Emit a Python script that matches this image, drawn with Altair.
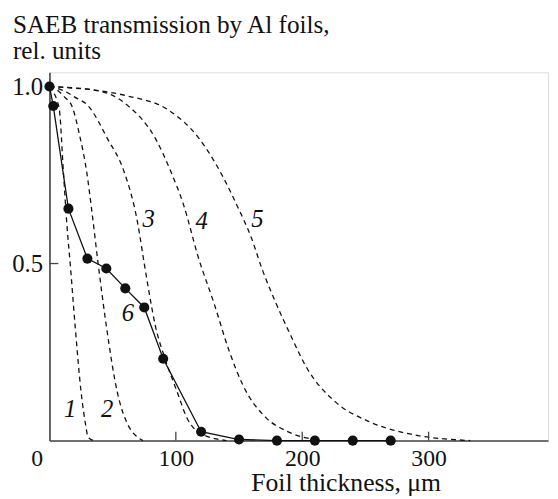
import altair as alt
import pandas as pd

# measured curve 6 (dots)
meas_x = [0, 3, 15, 30, 45, 60, 75, 90, 120, 150, 180, 210, 240, 270]
meas_y = [1.0, 0.945, 0.655, 0.514, 0.486, 0.43, 0.376, 0.231, 0.025, 0.003, 0.0, 0.0, 0.0, 0.0]

# calculated curves 1-5 (dashed)
c1_x = [0, 3, 6, 8, 11, 14, 16.4, 20.3, 25, 28.6, 30.5, 35]
c1_y = [1.0, 0.985, 0.96, 0.93, 0.76, 0.6, 0.5, 0.324, 0.138, 0.045, 0.01, 0.0]
c2_x = [0, 6, 12, 17.7, 24, 29.4, 33.3, 38.5, 45, 53.6, 62, 68, 74]
c2_y = [1.0, 0.99, 0.97, 0.945, 0.86, 0.76, 0.655, 0.5, 0.324, 0.138, 0.045, 0.015, 0.0]
c3_x = [0, 10, 20, 30.7, 46, 59, 69.5, 75, 78.9, 83.8, 91.6, 101, 108.8, 120, 140]
c3_y = [1.0, 0.99, 0.97, 0.945, 0.852, 0.76, 0.62, 0.5, 0.417, 0.324, 0.23, 0.138, 0.064, 0.02, 0.0]
c4_x = [0, 20, 35, 48.7, 62, 84, 96, 106, 118, 130, 142.5, 153, 171.5, 187, 215]
c4_y = [1.0, 0.995, 0.99, 0.977, 0.946, 0.852, 0.76, 0.667, 0.515, 0.39, 0.25, 0.157, 0.064, 0.028, 0.0]
c5_x = [0, 36, 62, 93, 118, 138, 148, 159.6, 168.7, 179, 191, 204, 226, 252, 286, 333]
c5_y = [1.0, 0.99, 0.973, 0.936, 0.855, 0.74, 0.667, 0.574, 0.48, 0.39, 0.296, 0.203, 0.11, 0.055, 0.018, 0.0]

curve_labels = ["1", "2", "3", "4", "5", "6"]
label_x = [16.4, 45.6, 78.5, 120.5, 164.5, 62]
label_y = [0.09, 0.09, 0.625, 0.62, 0.625, 0.36]

x_ticks = [0, 100, 200, 300]
x_inner_ticks = [100, 200, 300]
y_ticks = [0.5, 1.0]

FONT = "Liberation Serif, Times New Roman, Times, serif"

rows = []
for name, xs, ys in [("1", c1_x, c1_y), ("2", c2_x, c2_y), ("3", c3_x, c3_y),
                     ("4", c4_x, c4_y), ("5", c5_x, c5_y)]:
    for i, (a, b) in enumerate(zip(xs, ys)):
        rows.append({"curve": name, "x": a, "y": b, "order": i})
calc = pd.DataFrame(rows)
meas = pd.DataFrame({"x": meas_x, "y": meas_y})
labels = pd.DataFrame({"t": curve_labels, "x": label_x, "y": label_y})
xt = pd.DataFrame({"x": x_inner_ticks, "y0": [0] * 3, "y1": [0.025] * 3})
yt = pd.DataFrame({"y": [0.5], "x0": [0], "x1": [7]})

xscale = alt.Scale(domain=[0, 394.5], nice=False, zero=False)
yscale = alt.Scale(domain=[0, 1.04], nice=False, zero=False)

xaxis = alt.Axis(values=x_ticks, ticks=False, grid=False, labelFont=FONT, labelFontSize=24,
                 labelColor="#111", labelPadding=6, labelFlush=False,
                 domainColor="#444", domainWidth=1.6,
                 labelOffset={"condition": {"test": "datum.value === 0", "value": -13}, "value": 0},
                 title="Foil thickness, μm", titleFont=FONT, titleFontSize=26,
                 titleFontWeight="normal", titleColor="#111", titleX=300, titleY=43,
                 titleAlign="center", titleBaseline="middle")
yaxis = alt.Axis(values=y_ticks, ticks=False, grid=False, format=".1f", labelFont=FONT,
                 labelFontSize=25, labelColor="#111", labelPadding=7, domainColor="#444",
                 domainWidth=1.6, title=None)

base_x = alt.X("x:Q", scale=xscale, axis=xaxis)
base_y = alt.Y("y:Q", scale=yscale, axis=yaxis)

dashed = alt.Chart(calc).mark_line(color="#111", strokeWidth=1.3, strokeDash=[5, 4],
                                   interpolate="monotone").encode(
    x=base_x, y=base_y, detail="curve:N", order="order:Q")

solid = alt.Chart(meas).mark_line(color="#111", strokeWidth=1.3).encode(
    x=alt.X("x:Q", scale=xscale), y=alt.Y("y:Q", scale=yscale))
dots = alt.Chart(meas).mark_circle(color="#111", size=105, opacity=1).encode(
    x=alt.X("x:Q", scale=xscale), y=alt.Y("y:Q", scale=yscale))

txt = alt.Chart(labels).mark_text(font=FONT, fontSize=25, fontStyle="italic",
                                  color="#111", align="center", baseline="middle").encode(
    x=alt.X("x:Q", scale=xscale), y=alt.Y("y:Q", scale=yscale), text="t:N")

xtick = alt.Chart(xt).mark_rule(color="#444", strokeWidth=1.3).encode(
    x=alt.X("x:Q", scale=xscale), y=alt.Y("y0:Q", scale=yscale), y2="y1:Q")
ytick = alt.Chart(yt).mark_rule(color="#444", strokeWidth=1.3).encode(
    y=alt.Y("y:Q", scale=yscale), x=alt.X("x0:Q", scale=xscale), x2="x1:Q")

chart = alt.layer(dashed, xtick, ytick, solid, dots, txt).properties(
    width=505, height=373,
    autosize=alt.AutoSizeParams(type="none"),
    padding={"left": 42, "top": 62, "right": 2, "bottom": 55},
    title=alt.TitleParams(text=["SAEB transmission by Al foils,", "\u2009rel. units"],
                          anchor="start", frame="group", dx=-37, offset=8,
                          font=FONT, fontSize=25.5, fontWeight="normal", color="#111",
                          lineHeight=26),
).configure_view(stroke=None).configure(background="white")

chart.save("out.html", embed_options={"renderer": "svg", "actions": False})
